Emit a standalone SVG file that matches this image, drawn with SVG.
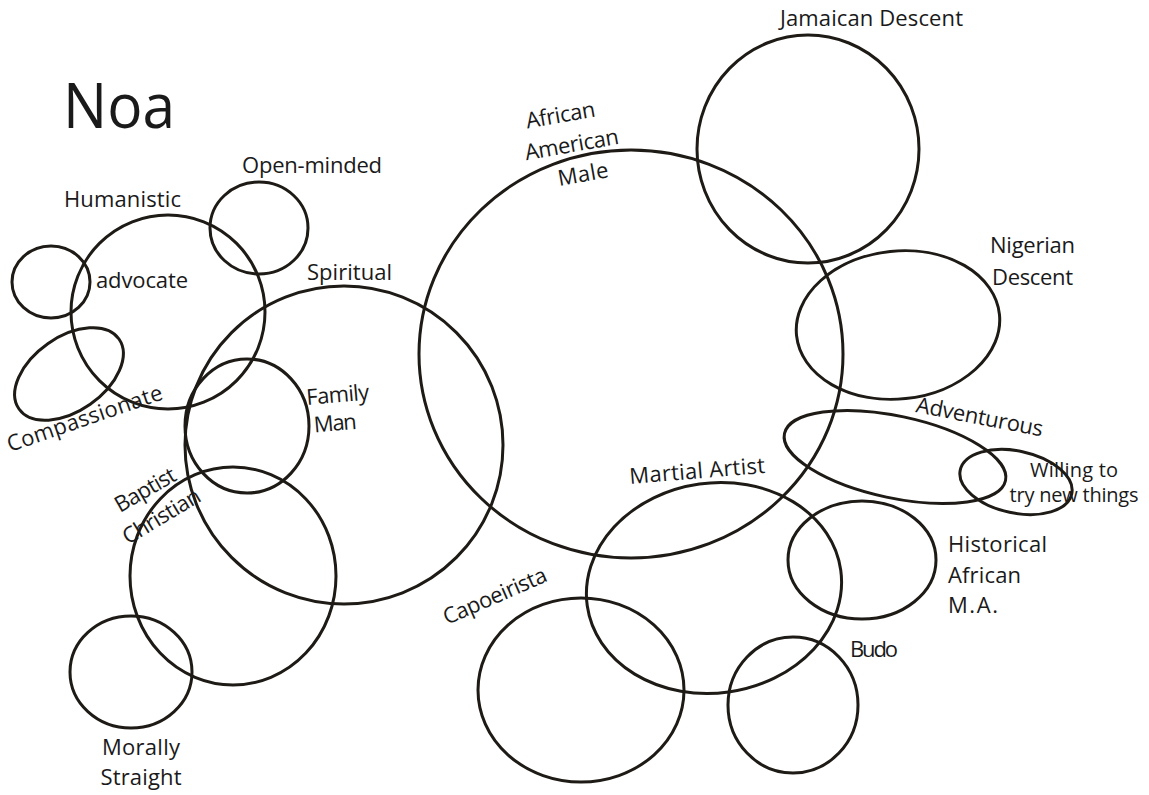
<svg xmlns="http://www.w3.org/2000/svg" width="1149" height="795" viewBox="0 0 1149 795">
<style>
.c{fill:none;stroke:#1e1a15;stroke-width:3}
.t{font-family:"Open Sans","Liberation Sans",sans-serif;font-size:22px;fill:#1a1a1a}
.s{font-size:20px}
</style>
<rect width="1149" height="795" fill="#ffffff"/>
<g id="title"><text class="t" x="63" y="128" style="font-size:63px" textLength="112" lengthAdjust="spacingAndGlyphs">Noa</text></g>
<g id="humanistic"><ellipse class="c" cx="168" cy="312" rx="97" ry="97"/><text class="t" x="64" y="207" textLength="117">Humanistic</text></g>
<g id="advocate"><ellipse class="c" cx="51" cy="282" rx="39" ry="36"/><text class="t" x="96" y="288" textLength="92">advocate</text></g>
<g id="compassionate"><ellipse class="c" cx="69" cy="374" rx="61" ry="37" transform="rotate(-35 69 374)"/><text class="t" transform="translate(10 452) rotate(-19)" textLength="163">Compassionate</text></g>
<g id="open-minded"><ellipse class="c" cx="259" cy="228" rx="49" ry="46"/><text class="t" x="242" y="173" textLength="140">Open-minded</text></g>
<g id="spiritual"><circle class="c" cx="344" cy="445" r="159"/><text class="t" x="307" y="280" textLength="85">Spiritual</text></g>
<g id="family-man"><ellipse class="c" cx="247" cy="426" rx="62" ry="67"/><g transform="translate(307 405) rotate(-5)"><text class="t" x="0" y="0" textLength="63">Family</text><text class="t" x="5" y="28" textLength="43">Man</text></g></g>
<g id="baptist-christian"><ellipse class="c" cx="233" cy="576" rx="103" ry="109"/><text class="t" transform="translate(120 513) rotate(-30)" textLength="67">Baptist</text><text class="t" transform="translate(128 545) rotate(-31)" textLength="87">Christian</text></g>
<g id="morally-straight"><ellipse class="c" cx="131" cy="672" rx="61" ry="56"/><text class="t" x="141" y="755" text-anchor="middle" textLength="78">Morally</text><text class="t" x="141" y="785" text-anchor="middle" textLength="81">Straight</text></g>
<g id="african-american-male"><ellipse class="c" cx="631" cy="354" rx="212" ry="204"/><g transform="translate(573 152) rotate(-10)"><text class="t" x="-6" y="-31" text-anchor="middle" textLength="70">African</text><text class="t" x="0" y="0" text-anchor="middle" textLength="95">American</text><text class="t" x="6" y="31" text-anchor="middle" textLength="51">Male</text></g></g>
<g id="jamaican-descent"><ellipse class="c" cx="808" cy="149" rx="111" ry="114"/><text class="t" x="780" y="26" textLength="183">Jamaican Descent</text></g>
<g id="nigerian-descent"><ellipse class="c" cx="898" cy="325" rx="102" ry="74" transform="rotate(-6 898 325)"/><text class="t" x="990" y="253" textLength="85">Nigerian</text><text class="t" x="992" y="285" textLength="81">Descent</text></g>
<g id="adventurous"><ellipse class="c" cx="895" cy="457" rx="113" ry="41" transform="rotate(12 895 457)"/><text class="t" transform="translate(915 412) rotate(11)" textLength="129">Adventurous</text></g>
<g id="willing"><ellipse class="c" cx="1016" cy="482" rx="57" ry="31" transform="rotate(12 1016 482)"/><text class="t s" x="1074" y="477" text-anchor="middle" textLength="88">Willing to</text><text class="t s" x="1074" y="502" text-anchor="middle" textLength="129">try new things</text></g>
<g id="martial-artist"><ellipse class="c" cx="714" cy="588" rx="128" ry="105" transform="rotate(-8 714 588)"/><text class="t" transform="translate(630 484) rotate(-4.7)" textLength="136">Martial Artist</text></g>
<g id="capoeirista"><ellipse class="c" cx="581" cy="690" rx="103" ry="92"/><text class="t" transform="translate(447 625) rotate(-23.6)" textLength="111">Capoeirista</text></g>
<g id="budo"><ellipse class="c" cx="793" cy="705" rx="65" ry="68"/><text class="t" x="850" y="657" textLength="48">Budo</text></g>
<g id="historical"><ellipse class="c" cx="862" cy="560" rx="74" ry="59"/><text class="t" x="948" y="552" textLength="99">Historical</text><text class="t" x="948" y="583" textLength="73">African</text><text class="t" x="948" y="613" textLength="50">M.A.</text></g>
<g id="connectors"></g>
</svg>
